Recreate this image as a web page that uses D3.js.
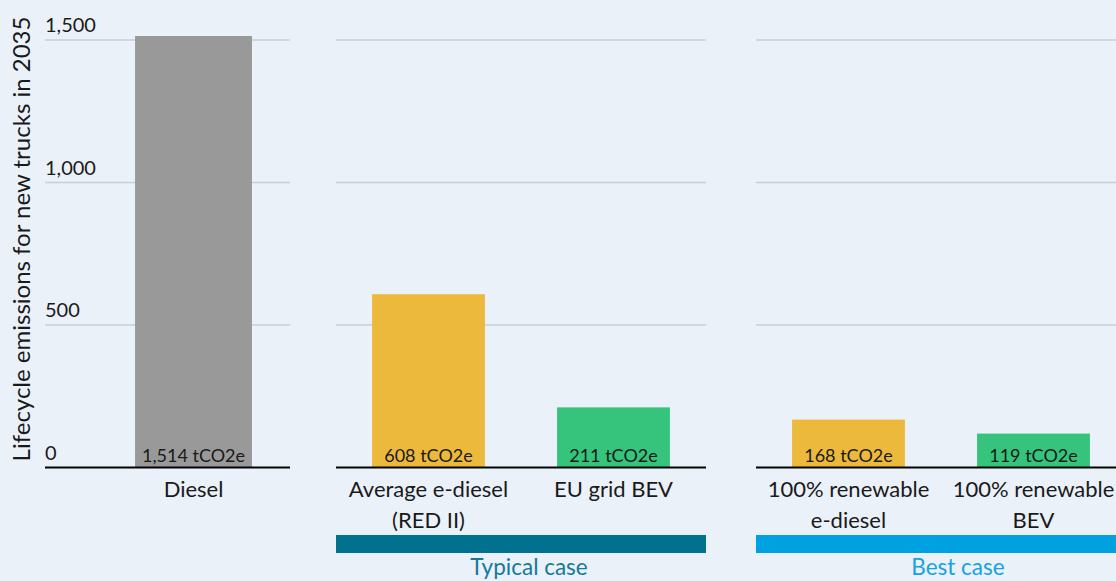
<!DOCTYPE html>
<html>
<head>
<meta charset="utf-8">
<script src="https://cdn.jsdelivr.net/npm/d3@7"></script>
<style>
  html, body { margin: 0; padding: 0; background: #eaf1f9; }
  svg { display: block; font-family: Lato, "Open Sans", sans-serif; }
</style>
</head>
<body>
<svg id="chart" width="1116" height="581"></svg>
<script>
// ---- data ----
const categories = ["Diesel", "Average e-diesel (RED II)", "EU grid BEV", "100% renewable e-diesel", "100% renewable BEV"];
const categoryLines = [["Diesel"], ["Average e-diesel", "(RED II)"], ["EU grid BEV"], ["100% renewable", "e-diesel"], ["100% renewable", "BEV"]];
const values = [1514, 608, 211, 168, 119];
const valueLabels = ["1,514 tCO2e", "608 tCO2e", "211 tCO2e", "168 tCO2e", "119 tCO2e"];
const fuelTypes = ["diesel", "ediesel", "bev", "ediesel", "bev"];
const panelOf = [0, 1, 1, 2, 2];
const groupNames = ["", "Typical case", "Best case"];
const yTicks = [0, 500, 1000, 1500];
const yTickLabels = ["0", "500", "1,000", "1,500"];
const yTitle = "Lifecycle emissions for new trucks in 2035";

// ---- styles / layout ----
const colors = { diesel: "#999999", ediesel: "#edb93d", bev: "#36c47c" };
const groupColors = ["none", "#00718f", "#00a1e0"];
const groupTextColors = ["none", "#14799a", "#15a3e2"];
const panels = [
  { x0: 45, x1: 290, bx0: 101, bx1: 286, pad: 0.368, labelX: null },
  { x0: 336, x1: 706, bx0: 336, bx1: 706, pad: 0.39, labelX: 529 },
  { x0: 756, x1: 1126, bx0: 756, bx1: 1126, pad: 0.39, labelX: 958 }
];

const svg = d3.select("#chart");
const y = d3.scaleLinear().domain([0, 1500]).range([467.5, 40]);

panels.forEach((p, pi) => {
  const idx = categories.map((c, i) => i).filter(i => panelOf[i] === pi);
  const x = d3.scaleBand().domain(idx.map(i => categories[i]))
    .range([p.bx0, p.bx1]).paddingInner(p.pad).paddingOuter(p.pad / 2);
  const g = svg.append("g");

  // gridlines
  g.selectAll("line.grid").data(yTicks.filter(t => t > 0)).join("line")
    .attr("x1", p.x0).attr("x2", p.x1)
    .attr("y1", d => y(d)).attr("y2", d => y(d))
    .attr("stroke", "#c8cdd8").attr("stroke-width", 1.5);

  // bars
  g.selectAll("rect.bar").data(idx).join("rect")
    .attr("x", i => x(categories[i]))
    .attr("width", x.bandwidth())
    .attr("y", i => y(values[i]))
    .attr("height", i => y(0) - y(values[i]))
    .attr("fill", i => colors[fuelTypes[i]]);

  // value labels
  g.selectAll("text.val").data(idx).join("text")
    .attr("x", i => x(categories[i]) + x.bandwidth() / 2)
    .attr("y", y(0) - 6)
    .attr("text-anchor", "middle")
    .attr("font-size", 18)
    .attr("fill", "#1a1a1a")
    .text(i => valueLabels[i]);

  // baseline
  g.append("line")
    .attr("x1", p.x0).attr("x2", p.x1)
    .attr("y1", y(0)).attr("y2", y(0))
    .attr("stroke", "#000").attr("stroke-width", 2);

  // category labels
  const cl = g.selectAll("text.cat").data(idx).join("text")
    .attr("text-anchor", "middle")
    .attr("font-size", 22)
    .attr("fill", "#1a1a1a");
  cl.each(function(i) {
    const t = d3.select(this);
    categoryLines[i].forEach((line, li) => {
      t.append("tspan")
        .attr("x", x(categories[i]) + x.bandwidth() / 2)
        .attr("y", 497 + li * 31)
        .text(line);
    });
  });

  // group bar and label
  if (groupNames[pi]) {
    g.append("rect")
      .attr("x", p.x0).attr("width", p.x1 - p.x0)
      .attr("y", 535).attr("height", 18)
      .attr("fill", groupColors[pi]);
    g.append("text")
      .attr("x", p.labelX).attr("y", 575)
      .attr("text-anchor", "middle")
      .attr("font-size", 22.5)
      .attr("fill", groupTextColors[pi])
      .text(groupNames[pi]);
  }
});

// y tick labels
svg.append("g").selectAll("text").data(yTicks).join("text")
  .attr("x", 45)
  .attr("y", d => y(d) - 8)
  .attr("font-size", 20)
  .attr("fill", "#1a1a1a")
  .text((d, i) => yTickLabels[i]);

// y title
svg.append("text")
  .attr("transform", "translate(30,239) rotate(-90)")
  .attr("text-anchor", "middle")
  .attr("font-size", 24)
  .attr("fill", "#1a1a1a")
  .text(yTitle);
</script>
</body>
</html>
